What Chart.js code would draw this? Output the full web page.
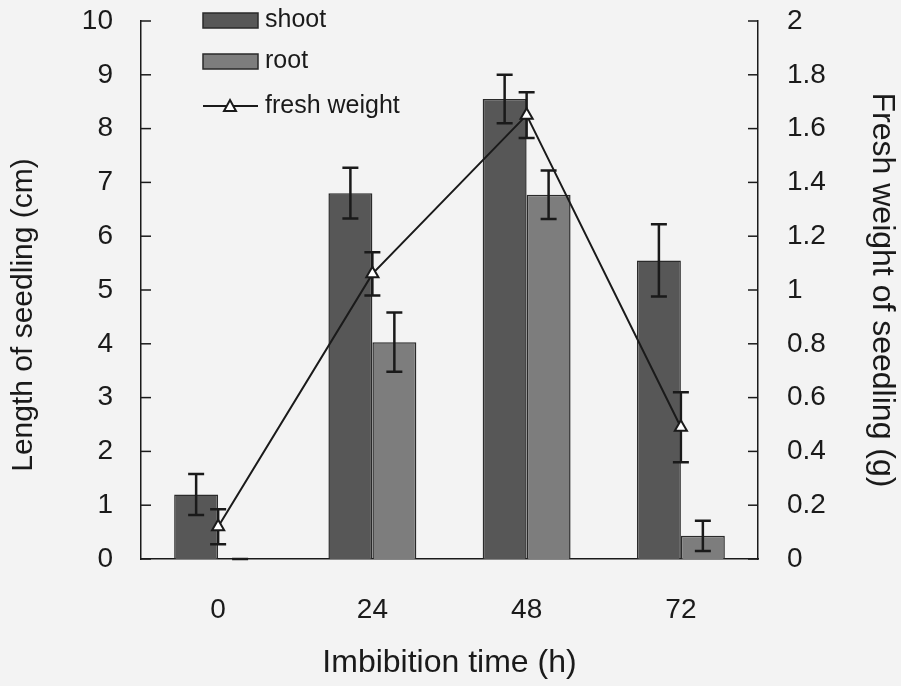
<!DOCTYPE html>
<html>
<head>
<meta charset="utf-8">
<script src="https://cdn.jsdelivr.net/npm/chart.js@4/dist/chart.umd.min.js"></script>
<style>
  html, body { margin: 0; padding: 0; background: #f3f3f3; }
  #wrap { width: 901px; height: 686px; position: relative; }
</style>
</head>
<body>
<div id="wrap"><canvas id="seedChart"></canvas></div>
<script>
// Data
const categories = ['0', '24', '48', '72'];
const shoot = [1.2, 6.8, 8.55, 5.55];
const shootErr = [0.38, 0.47, 0.45, 0.67];
const root = [0, 4.03, 6.77, 0.43];
const rootErr = [0, 0.55, 0.45, 0.28];
const freshWeight = [0.12, 1.06, 1.65, 0.49];
const freshErr = [0.065, 0.08, 0.085, 0.13];
const lengthTicks = [0, 1, 2, 3, 4, 5, 6, 7, 8, 9, 10];
const weightTicks = ['0', '0.2', '0.4', '0.6', '0.8', '1', '1.2', '1.4', '1.6', '1.8', '2'];

const FONT = '"Liberation Sans", Arial, sans-serif';
const INK = '#1a1a1a';
const NB = '\u00a0';

// error bars: bars drawn after, line drawn before its own points
function drawErrors(chart, meta) {
    const ds = chart.data.datasets[meta.index];
    if (!ds.errors) return;
    const scale = chart.scales[meta.yAxisID];
    const ctx = chart.ctx;
    ctx.save();
    ctx.strokeStyle = INK;
    ctx.lineWidth = 2.5;
    meta.data.forEach((el, i) => {
        const v = ds.data[i], e = ds.errors[i];
        const x = el.x;
        const yTop = scale.getPixelForValue(v + e);
        const yBot = scale.getPixelForValue(v - e);
        ctx.beginPath();
        ctx.moveTo(x, yTop); ctx.lineTo(x, yBot);
        ctx.moveTo(x - 8, yTop); ctx.lineTo(x + 8, yTop);
        ctx.moveTo(x - 8, yBot); ctx.lineTo(x + 8, yBot);
        ctx.stroke();
    });
    ctx.restore();
}

const errorBars = {
    id: 'errorBars',
    beforeDatasetDraw(chart, args) {
        if (args.meta.type === 'line') drawErrors(chart, args.meta);
    },
    afterDatasetDraw(chart, args) {
        if (args.meta.type === 'bar') drawErrors(chart, args.meta);
    }
};

// small tick marks pointing into the plot
const innerTicks = {
    id: 'innerTicks',
    afterDraw(chart) {
        const ctx = chart.ctx;
        const area = chart.chartArea;
        ctx.save();
        ctx.strokeStyle = INK;
        ctx.lineWidth = 1.5;
        ['y', 'y1'].forEach(id => {
            const s = chart.scales[id];
            s.ticks.forEach((t, i) => {
                const y = s.getPixelForTick(i);
                ctx.beginPath();
                if (id === 'y') { ctx.moveTo(area.left, y); ctx.lineTo(area.left + 10, y); }
                else { ctx.moveTo(area.right, y); ctx.lineTo(area.right - 10, y); }
                ctx.stroke();
            });
        });
        ctx.restore();
    }
};

// legend in the top left corner of the plot
const cornerLegend = {
    id: 'cornerLegend',
    afterDraw(chart) {
        const ctx = chart.ctx;
        const sets = chart.data.datasets;
        ctx.save();
        ctx.font = '25px ' + FONT;
        ctx.textBaseline = 'middle';
        ctx.fillStyle = INK;
        const rows = [20, 61, 106];
        sets.forEach((ds, i) => {
            const y = rows[i];
            if (ds.type === 'line') {
                ctx.strokeStyle = INK;
                ctx.lineWidth = 2;
                ctx.beginPath();
                ctx.moveTo(203, y); ctx.lineTo(258, y);
                ctx.stroke();
                ctx.fillStyle = '#ffffff';
                ctx.beginPath();
                ctx.moveTo(230, y - 6); ctx.lineTo(236, y + 5); ctx.lineTo(224, y + 5);
                ctx.closePath();
                ctx.fill(); ctx.stroke();
            } else {
                ctx.fillStyle = ds.backgroundColor;
                ctx.fillRect(203, y - 7, 55, 15);
                ctx.strokeStyle = '#2a2a2a';
                ctx.lineWidth = 1.5;
                ctx.strokeRect(203, y - 7, 55, 15);
            }
            ctx.fillStyle = INK;
            ctx.fillText(ds.label, 265, y);
        });
        ctx.restore();
    }
};

new Chart(document.getElementById('seedChart'), {
    data: {
        labels: categories,
        datasets: [{
            type: 'bar',
            label: 'shoot',
            data: shoot,
            errors: shootErr,
            yAxisID: 'y',
            backgroundColor: '#575757',
            borderColor: '#2a2a2a',
            borderWidth: 1.5,
            categoryPercentage: 0.57,
            barPercentage: 1,
            order: 1
        }, {
            type: 'bar',
            label: 'root',
            data: root,
            errors: rootErr,
            yAxisID: 'y',
            backgroundColor: '#7d7d7d',
            borderColor: '#2a2a2a',
            borderWidth: 1.5,
            categoryPercentage: 0.57,
            barPercentage: 1,
            order: 2
        }, {
            type: 'line',
            label: 'fresh weight',
            data: freshWeight,
            errors: freshErr,
            yAxisID: 'y1',
            borderColor: INK,
            borderWidth: 2,
            pointStyle: 'triangle',
            pointRadius: 7,
            pointBorderWidth: 2,
            pointBackgroundColor: '#ffffff',
            pointBorderColor: INK,
            tension: 0,
            order: 0
        }]
    },
    options: {
        responsive: true,
        maintainAspectRatio: false,
        animation: false,
        layout: { padding: { top: 21 } },
        plugins: {
            legend: { display: false },
            tooltip: { enabled: false }
        },
        scales: {
            x: {
                grid: { display: false, drawTicks: false },
                border: { display: true, color: INK, width: 1.5 },
                ticks: { color: INK, font: { family: FONT, size: 28 }, padding: 34 },
                title: { display: true, text: 'Imbibition time (h)', color: INK,
                         font: { family: FONT, size: 32 }, padding: { bottom: 4 } },
                afterFit(s) { s.height = 127; }
            },
            y: {
                position: 'left',
                min: 0, max: 10,
                afterBuildTicks(s) { s.ticks = lengthTicks.map(v => ({ value: v })); },
                grid: { display: false, drawTicks: false },
                border: { display: true, color: INK, width: 1.5 },
                ticks: { color: INK, font: { family: FONT, size: 28 }, padding: 28 },
                title: { display: true, text: 'Length of seedling (cm)' + NB.repeat(6), color: INK,
                         font: { family: FONT, size: 30 }, padding: { top: 6 } },
                afterFit(s) { s.width = 141; s.paddingTop = 0; s.paddingBottom = 0; }
            },
            y1: {
                position: 'right',
                min: 0, max: 2,
                afterBuildTicks(s) { s.ticks = weightTicks.map(v => ({ value: parseFloat(v) })); },
                grid: { display: false, drawTicks: false },
                border: { display: true, color: INK, width: 1.5 },
                ticks: { color: INK, font: { family: FONT, size: 28 }, padding: 29,
                         callback: (v, i) => weightTicks[i] },
                title: { display: true, text: 'Fresh weight of seedling (g)', color: INK,
                         font: { family: FONT, size: 32 }, padding: { top: 0 } },
                afterFit(s) { s.width = 143; s.paddingTop = 0; s.paddingBottom = 0; }
            }
        }
    },
    plugins: [errorBars, innerTicks, cornerLegend]
});
</script>
</body>
</html>
